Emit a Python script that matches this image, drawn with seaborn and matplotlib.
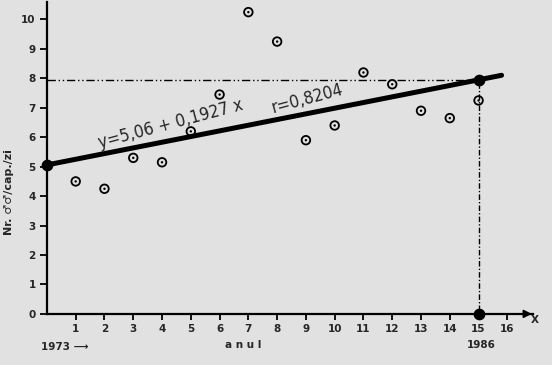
import numpy as np
import pandas as pd
import matplotlib
matplotlib.use("Agg")
import matplotlib.pyplot as plt
import seaborn as sns

# ---- data ----
years_idx = [1, 2, 3, 4, 5, 6, 7, 8, 9, 10, 11, 12, 13, 14, 15]
males_per_trap = [4.5, 4.25, 5.3, 5.15, 6.2, 7.45, 10.25, 9.25, 5.9, 6.4, 8.2, 7.8, 6.9, 6.65, 7.25]
intercept = 5.06
slope = 0.1927
r_value = 0.8204
line_x = [0, 15.8]
x_ticks = list(range(1, 17))
y_ticks = list(range(0, 11))
mark_x = 15

bg = "#e1e1e1"
sns.set_theme(style="white")
plt.rcParams["font.family"] = ["DejaVu Sans"]

fig = plt.figure(figsize=(5.52, 3.65), dpi=100, facecolor=bg)
ax = fig.add_axes([0.085, 0.14, 0.881, 0.855])
ax.set_facecolor(bg)

df = pd.DataFrame({"x": years_idx, "y": males_per_trap})
line_df = pd.DataFrame({"x": line_x, "y": [intercept + slope * v for v in line_x]})
mark_y = intercept + slope * mark_x

# reference lines
ax.plot([0, mark_x], [mark_y, mark_y], color="black", lw=1.0, ls=(0, (6, 2, 1, 2, 1, 2)))
ax.plot([mark_x, mark_x], [0, mark_y], color="black", lw=1.0, ls=(0, (1, 1.5, 4, 1.5)))

# regression line
sns.lineplot(data=line_df, x="x", y="y", ax=ax, color="black", lw=3.6, legend=False)

# observed points (circle with dot)
sns.scatterplot(data=df, x="x", y="y", ax=ax, marker="o", s=38, facecolor="none",
                edgecolor="black", linewidth=1.3, legend=False, zorder=5)
sns.scatterplot(data=df, x="x", y="y", ax=ax, marker="o", s=3, color="black",
                edgecolor="none", legend=False, zorder=6)

# filled dots
ax.scatter([0, mark_x, mark_x], [intercept, mark_y, 0], s=55, color="black", zorder=7, clip_on=False)

ax.set_xlim(0, 16.9)
ax.set_ylim(0, 10.6)
for s in ["top", "right"]:
    ax.spines[s].set_visible(False)
for s in ["left", "bottom"]:
    ax.spines[s].set_color("black")
    ax.spines[s].set_linewidth(1.6)

ax.set_xticks(x_ticks)
ax.set_xticklabels([str(t) for t in x_ticks], fontsize=7.5, fontweight="bold")
ax.set_yticks(y_ticks)
ax.set_yticklabels([str(t) for t in y_ticks], fontsize=7.5, fontweight="bold")
ax.tick_params(axis="x", direction="out", length=4, width=1.3, color="black", pad=3, bottom=True)
ax.tick_params(axis="y", direction="out", length=5, width=1.3, color="black", pad=3, left=True)
ax.set_xlabel("")
ax.set_ylabel("Nr. ♂♂/cap./zi", fontsize=8, fontweight="bold")
ax.yaxis.set_label_coords(-0.068, 0.39)

# X arrow / label
ax.annotate("", xy=(16.95, 0), xytext=(16.6, 0), xycoords="data",
            arrowprops=dict(arrowstyle="-|>", color="black", lw=1.2), annotation_clip=False)
fig.text(535 / 552, 1 - 320 / 365, "X", fontsize=7.5, fontweight="bold", ha="center", va="center")

# equation texts
ax.text(4.3, 6.45, "y=5,06 + 0,1927 x", fontsize=12.5, rotation=15, fontstretch="condensed",
        ha="center", va="center", rotation_mode="anchor")
ax.text(9.06, 7.3, "r=0,8204", fontsize=12.5, rotation=15, fontstretch="condensed",
        ha="center", va="center", rotation_mode="anchor")

# bottom texts
fig.text(65 / 552, 1 - 347 / 365, "1973 ⟶", fontsize=7.5, fontweight="bold", ha="center", va="center")
fig.text(243 / 552, 1 - 345 / 365, "a n u l", fontsize=7.5, fontweight="bold", ha="center", va="center")
fig.text(481 / 552, 1 - 345 / 365, "1986", fontsize=7.5, fontweight="bold", ha="center", va="center")

fig.savefig("out.png", dpi=100, facecolor=bg)
